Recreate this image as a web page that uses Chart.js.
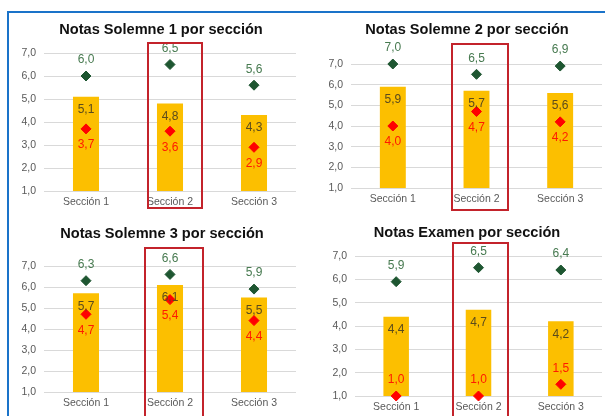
<!DOCTYPE html>
<html>
<head>
<meta charset="utf-8">
<script src="https://cdn.jsdelivr.net/npm/chart.js@4.4.1/dist/chart.umd.min.js"></script>
<style>
  html, body { margin: 0; padding: 0; background: #fff; overflow: hidden; }
  body { width: 605px; height: 416px; position: relative; font-family: "Liberation Sans", Arial, sans-serif; }
  canvas { position: absolute; }
  .title { position: absolute; transform: translate(-50%, -50%); font-weight: bold; font-size: 14.6px; color: #111; white-space: nowrap; }
  .frame { position: absolute; left: 7px; top: 11px; width: 700px; height: 500px; border: 2.5px solid #1a73c9; box-sizing: border-box; }
  .hl { position: absolute; border: 2px solid #c3232b; box-sizing: border-box; z-index: 2; }
</style>
</head>
<body>
<div class="frame"></div>

<canvas id="c1"></canvas>
<canvas id="c2"></canvas>
<canvas id="c3"></canvas>
<canvas id="c4"></canvas>

<div class="title" style="left:161px; top:29px;">Notas Solemne 1 por sección</div>
<div class="title" style="left:467px; top:29px;">Notas Solemne 2 por sección</div>
<div class="title" style="left:162px; top:233px;">Notas Solemne 3 por sección</div>
<div class="title" style="left:467px; top:232px;">Notas Examen por sección</div>

<!-- Sección 2 highlight boxes -->
<div class="hl" style="left:147px; top:42px; width:56px; height:167px;"></div>
<div class="hl" style="left:451px; top:43px; width:58px; height:168px;"></div>
<div class="hl" style="left:144px; top:247px; width:60px; height:190px;"></div>
<div class="hl" style="left:452px; top:242px; width:57px; height:190px;"></div>

<script>
// Sections
const secciones = ['Sección 1', 'Sección 2', 'Sección 3'];

// Solemne 1
const sol1Promedio = [5.1, 4.8, 4.3];
const sol1Max = [6.0, 6.5, 5.6];
const sol1Min = [3.7, 3.6, 2.9];

// Solemne 2
const sol2Promedio = [5.9, 5.7, 5.6];
const sol2Max = [7.0, 6.5, 6.9];
const sol2Min = [4.0, 4.7, 4.2];

// Solemne 3
const sol3Promedio = [5.7, 6.1, 5.5];
const sol3Max = [6.3, 6.6, 5.9];
const sol3Min = [4.7, 5.4, 4.4];

// Examen
const examPromedio = [4.4, 4.7, 4.2];
const examMax = [5.9, 6.5, 6.4];
const examMin = [1.0, 1.0, 1.5];

// Y axis range (notas 1,0 - 7,0)
const notaMin = 1;
const notaMax = 7;

const fmt = v => v.toFixed(1).replace('.', ',');

// Draws the value labels next to bars and diamonds
const valueLabels = {
  id: 'valueLabels',
  afterDatasetsDraw(chart) {
    const ctx = chart.ctx;
    ctx.save();
    ctx.font = '12px "Liberation Sans", Arial, sans-serif';
    ctx.textAlign = 'center';
    ctx.textBaseline = 'middle';
    chart.data.datasets.forEach((ds, i) => {
      const meta = chart.getDatasetMeta(i);
      meta.data.forEach((el, j) => {
        let y = el.y;
        if (ds.labelPos === 'inside') y += 13;
        else if (ds.labelPos === 'above') y -= 16;
        else y += 16;
        ctx.fillStyle = ds.labelColor;
        ctx.fillText(fmt(ds.data[j]), el.x, y);
      });
    });
    ctx.restore();
  }
};

// One panel: canvas box plus the chart area inside it
function makePanel(id, box, area, prom, max, min, minPos) {
  const canvas = document.getElementById(id);
  canvas.width = box.w;
  canvas.height = box.h;
  canvas.style.left = box.x + 'px';
  canvas.style.top = box.y + 'px';

  return new Chart(canvas, {
    data: {
      labels: secciones,
      datasets: [
        {
          type: 'bar',
          data: prom,
          backgroundColor: '#fcbf00',
          categoryPercentage: 1,
          barPercentage: 0.31,
          labelPos: 'inside',
          labelColor: '#5b4b1c',
          order: 2
        },
        {
          type: 'line',
          data: max,
          showLine: false,
          pointStyle: 'rectRot',
          pointRadius: 5,
          pointBackgroundColor: '#1e5631',
          pointBorderColor: '#1e5631',
          labelPos: 'above',
          labelColor: '#477a50',
          clip: false,
          order: 1
        },
        {
          type: 'line',
          data: min,
          showLine: false,
          pointStyle: 'rectRot',
          pointRadius: 5,
          pointBackgroundColor: '#ff0000',
          pointBorderColor: '#ff0000',
          labelPos: minPos,
          labelColor: '#ff1a00',
          clip: false,
          order: 1
        }
      ]
    },
    options: {
      responsive: false,
      devicePixelRatio: 1,
      animation: false,
      layout: {
        padding: {
          top: area.top - box.y,
          right: box.x + box.w - area.right,
          left: 0,
          bottom: 0
        }
      },
      plugins: {
        legend: { display: false },
        tooltip: { enabled: false },
        title: { display: false }
      },
      scales: {
        x: {
          offset: true,
          grid: { display: false, drawTicks: false },
          border: { display: false },
          ticks: {
            color: '#595959',
            padding: 5,
            font: { family: '"Liberation Sans", Arial, sans-serif', size: 10.5 }
          },
          afterFit: s => { s.height = box.y + box.h - area.bottom; }
        },
        y: {
          min: notaMin,
          max: notaMax,
          grid: { color: '#d9d9d9', drawTicks: false },
          border: { display: false },
          ticks: {
            stepSize: 1,
            color: '#595959',
            padding: 8,
            font: { family: '"Liberation Sans", Arial, sans-serif', size: 10.5 },
            callback: v => fmt(v)
          },
          afterFit: s => { s.width = area.left - box.x; }
        }
      }
    },
    plugins: [valueLabels]
  });
}

makePanel('c1', { x: 0, y: 0, w: 302, h: 212 }, { left: 44, right: 302, top: 53, bottom: 191 },
  sol1Promedio, sol1Max, sol1Min, 'below');
makePanel('c2', { x: 302, y: 0, w: 306, h: 212 }, { left: 351, right: 607, top: 64, bottom: 188 },
  sol2Promedio, sol2Max, sol2Min, 'below');
makePanel('c3', { x: 0, y: 212, w: 302, h: 204 }, { left: 44, right: 301, top: 266, bottom: 392 },
  sol3Promedio, sol3Max, sol3Min, 'below');
makePanel('c4', { x: 302, y: 212, w: 306, h: 216 }, { left: 355, right: 606, top: 256, bottom: 396 },
  examPromedio, examMax, examMin, 'above');
</script>
</body>
</html>
